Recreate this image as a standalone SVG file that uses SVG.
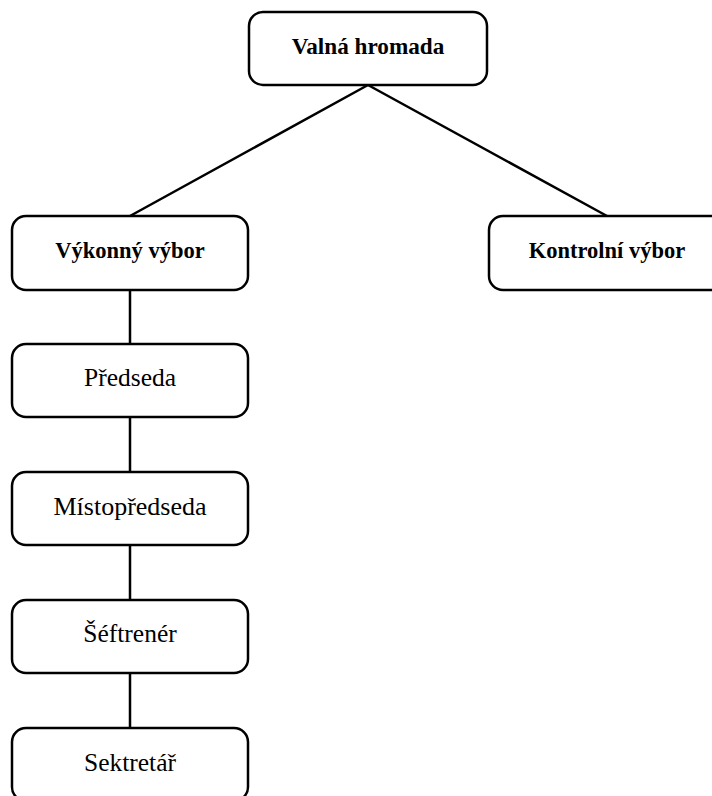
<svg xmlns="http://www.w3.org/2000/svg" width="712" height="796" viewBox="0 0 712 796">
<style>
.box{fill:#fff;stroke:#000;stroke-width:2.5}
.b{font-family:'Liberation Serif','Times New Roman','DejaVu Serif',serif;font-weight:bold;font-size:22.5px;text-anchor:middle;fill:#000}
.r{font-family:'Liberation Serif','Times New Roman','DejaVu Serif',serif;font-size:25.5px;text-anchor:middle;fill:#000}
.c{stroke:#000;stroke-width:2.5;fill:none}
</style>
<rect width="712" height="796" fill="#fff"/>
<g id="connectors">
<path class="c" d="M368 85 L130 216 M368 85 L607 216"/>
<path class="c" d="M130 290 V344 M130 417 V472 M130 545 V600 M130 673 V728"/>
</g>
<g id="valna"><rect class="box" x="249" y="12" width="238" height="73" rx="14"/><text class="b" x="368" y="54" style="font-size:23.2px">Valná hromada</text></g>
<g id="vykonny"><rect class="box" x="12" y="216" width="236" height="74" rx="14"/><text class="b" x="130" y="258">Výkonný výbor</text></g>
<g id="kontrolni"><rect class="box" x="489" y="216" width="236" height="74" rx="14"/><text class="b" x="607" y="258">Kontrolní výbor</text></g>
<g id="predseda"><rect class="box" x="12" y="344" width="236" height="73" rx="14"/><text class="r" x="130" y="386">Předseda</text></g>
<g id="mistopredseda"><rect class="box" x="12" y="472" width="236" height="73" rx="14"/><text class="r" x="130" y="515" style="font-size:26px">Místopředseda</text></g>
<g id="seftrener"><rect class="box" x="12" y="600" width="236" height="73" rx="14"/><text class="r" x="130" y="642">Šéftrenér</text></g>
<g id="sektretar"><rect class="box" x="12" y="728" width="236" height="73" rx="14"/><text class="r" x="130" y="771">Sektretář</text></g>
</svg>
